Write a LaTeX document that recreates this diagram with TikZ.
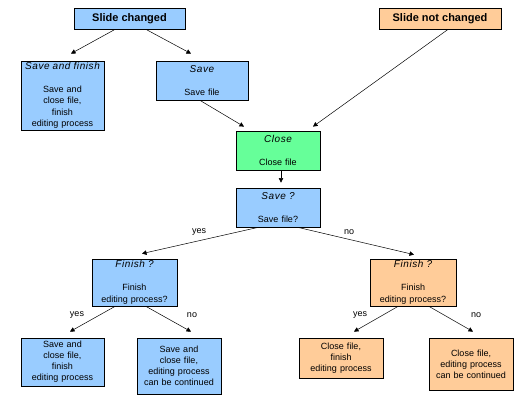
\documentclass[tikz,border=0pt]{standalone}
\usepackage{fontspec}
\setmainfont{Liberation Sans}
\usetikzlibrary{arrows.meta,calc}
\definecolor{cblue}{HTML}{99CCFF}
\definecolor{corange}{HTML}{FFCC99}
\definecolor{cgreen}{HTML}{66FF99}
\newcommand\ttl[1]{{\fontsize{10}{11.5}\selectfont\itshape\addfontfeature{LetterSpace=6}#1}}
\begin{document}
\begin{tikzpicture}[x=1pt,y=-1pt,
  box/.style={draw, line width=0.8pt, align=center, inner sep=0pt,
    font=\fontsize{9}{11.5}\selectfont},
  headbox/.style={draw, line width=0.8pt, align=center, inner sep=0pt,
    font=\fontsize{11}{13}\selectfont\bfseries},
  conn/.style={line width=0.5pt, -{Triangle[length=4.5pt,width=4.5pt]}},
  lbl/.style={font=\fontsize{9}{11}\selectfont, inner sep=0pt}
]
\useasboundingbox (0,0) rectangle (521,402);
\fill[white] (0,0) rectangle (521,402);

% header boxes
\node[headbox, fill=cblue, minimum width=111pt, minimum height=21pt] (sc) at (129.5,18.5) {Slide changed};
\node[headbox, fill=corange, minimum width=122pt, minimum height=21pt] (snc) at (440,18.5) {Slide not changed};

% second row
\node[box, fill=cblue, minimum width=83pt, minimum height=69pt, text width=83pt] (saf) at (62.5,95.5)
  {\ttl{Save and finish}\\[11.5pt]Save and\\close file,\\finish\\editing process};
\node[box, fill=cblue, minimum width=92pt, minimum height=39pt, text width=92pt] (save) at (202,80.5)
  {\ttl{Save}\\[11.5pt]Save file};

% close
\node[box, fill=cgreen, minimum width=84pt, minimum height=39pt, text width=84pt] (close) at (278,150.5)
  {\ttl{Close}\\[11.5pt]Close file};

% save?
\node[box, fill=cblue, minimum width=84pt, minimum height=39pt, text width=84pt] (saveq) at (278,207.5)
  {\ttl{Save ?}\\[11.5pt]Save file?};

% finish?
\node[box, fill=cblue, minimum width=85pt, minimum height=47pt, text width=85pt] (finl) at (134.5,282.5)
  {\ttl{Finish ?}\\[11.5pt]Finish\\editing process?};
\node[box, fill=corange, minimum width=86pt, minimum height=47pt, text width=86pt] (finr) at (413,282.5)
  {\ttl{Finish ?}\\[11.5pt]Finish\\editing process?};

% bottom row
\node[box, fill=cblue, minimum width=83pt, minimum height=48pt, text width=83pt, font=\fontsize{9}{11}\selectfont] (bl1) at (62.5,362)
  {Save and\\close file,\\finish\\editing process};
\node[box, fill=cblue, minimum width=84pt, minimum height=56pt, text width=84pt, font=\fontsize{9}{11}\selectfont] (bl2) at (179,366)
  {Save and\\close file,\\editing process\\can be continued};
\node[box, fill=corange, minimum width=84pt, minimum height=40pt, text width=84pt, font=\fontsize{9}{11}\selectfont] (br1) at (341,358)
  {Close file,\\finish\\editing process};
\node[box, fill=corange, minimum width=84pt, minimum height=52pt, text width=84pt, font=\fontsize{9}{11}\selectfont] (br2) at (471,364)
  {Close file,\\editing process\\can be continued};

% connectors
\draw[conn] ([xshift=-14.5pt]sc.south) -- ([xshift=8.5pt,yshift=7pt]saf.north);
\draw[conn] ([xshift=16.5pt]sc.south) -- ([xshift=-11pt,yshift=7pt]save.north);
\draw[conn] ([xshift=-2pt]save.south) -- ([xshift=-34pt,yshift=4pt]close.north);
\draw[conn] ([xshift=8pt]snc.south) -- ([xshift=35pt,yshift=4pt]close.north);
\draw[conn] ([xshift=3pt]close.south) -- ([xshift=3pt,yshift=5pt]saveq.north);
\draw[conn] ([xshift=-20pt]saveq.south) -- ([xshift=7.5pt,yshift=5pt]finl.north);
\draw[conn] ([xshift=20pt]saveq.south) -- ([xshift=1pt,yshift=4pt]finr.north);
\draw[conn] ([xshift=-19.5pt]finl.south) -- ([xshift=7.5pt,yshift=6pt]bl1.north);
\draw[conn] ([xshift=11.5pt]finl.south) -- ([xshift=12pt,yshift=6pt]bl2.north);
\draw[conn] ([xshift=-15pt]finr.south) -- ([xshift=13pt,yshift=6pt]br1.north);
\draw[conn] ([xshift=16pt]finr.south) -- ([xshift=2pt,yshift=6pt]br2.north);

% labels
\node[lbl] (l1) at (199,232) {yes};
\node[lbl] (l2) at (349,232) {no};
\node[lbl] (l3) at (77,315) {yes};
\node[lbl] (l4) at (192,315) {no};
\node[lbl] (l5) at (360,315) {yes};
\node[lbl] (l6) at (476,315) {no};
\end{tikzpicture}
\end{document}
